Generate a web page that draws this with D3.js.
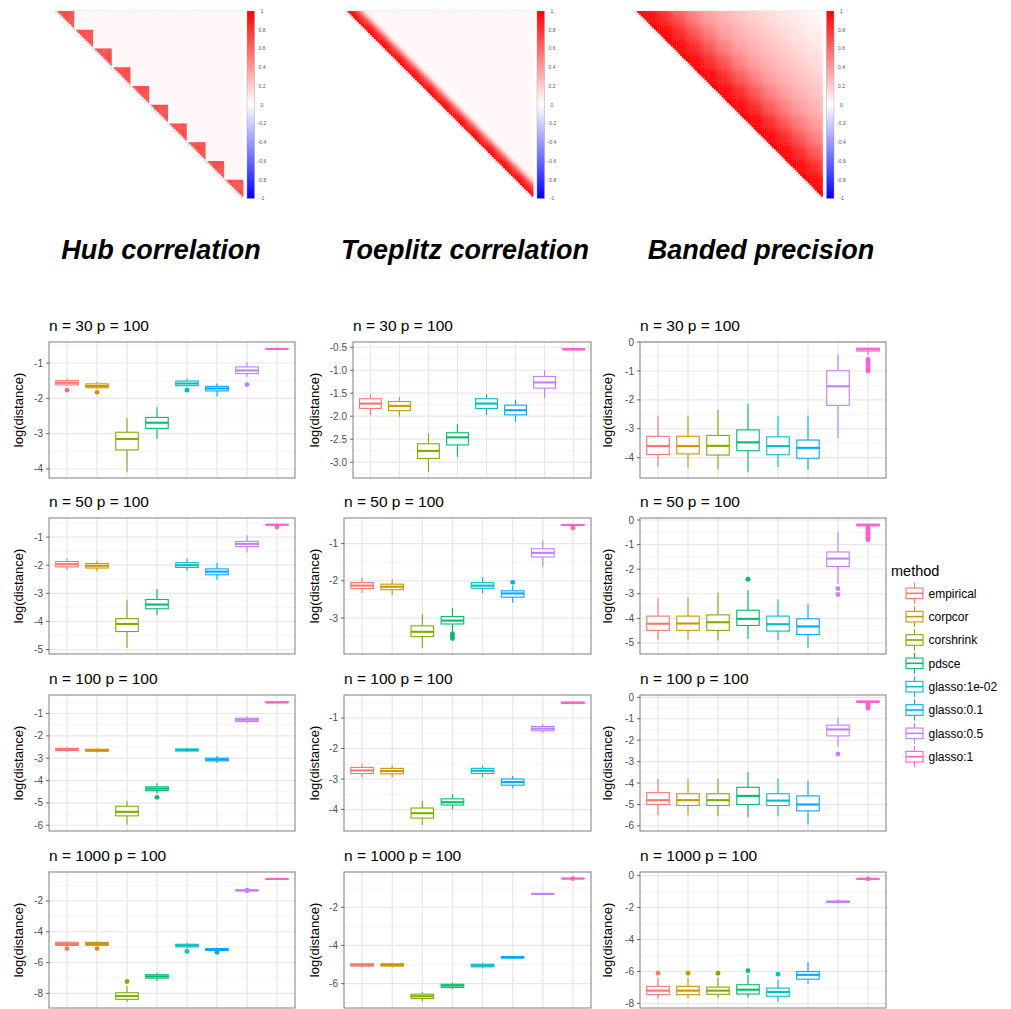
<!DOCTYPE html>
<html>
<head>
<meta charset="utf-8">
<script src="https://cdn.jsdelivr.net/npm/d3@7"></script>
<style>
  body { margin: 0; background: #fff; }
  svg { display: block; font-family: "Liberation Sans", Arial, Helvetica, sans-serif; }
</style>
</head>
<body>
<div id="chart"></div>
<script>
// ---------- data ----------
const methods = ["empirical", "corpcor", "corshrink", "pdsce", "glasso:1e-02", "glasso:0.1", "glasso:0.5", "glasso:1"];
const methodColors = ["#F8766D", "#CD9600", "#7CAE00", "#00BE67", "#00BFC4", "#00A9FF", "#C77CFF", "#FF61CC"];
const structures = ["Hub correlation", "Toeplitz correlation", "Banded precision"];
const sampleSizes = [30, 50, 100, 1000];
const dimension = 100;

// heatmaps (upper triangle of 100 x 100 correlation matrices)
const hubBlockSize = 10;
const hubBlockCor = 0.7;
const backgroundCor = 0.03;
const toeplitzLagCor = [1, 0.97, 0.94, 0.9, 0.86, 0.8, 0.7, 0.55, 0.4, 0.25, 0.12, 0.05];
const bandedLagCor = [
  1.00, 0.99, 0.98, 0.97, 0.96, 0.95, 0.94, 0.92, 0.91, 0.90,
  0.88, 0.86, 0.84, 0.82, 0.80, 0.78, 0.76, 0.73, 0.71, 0.69,
  0.67, 0.65, 0.63, 0.61, 0.59, 0.57, 0.55, 0.53, 0.51, 0.49,
  0.48, 0.46, 0.45, 0.43, 0.42, 0.40, 0.39, 0.38, 0.37, 0.36,
  0.35, 0.34, 0.33, 0.32, 0.31, 0.30, 0.29, 0.28, 0.28, 0.27,
  0.26, 0.25, 0.25, 0.24, 0.23, 0.23, 0.22, 0.21, 0.21, 0.20,
  0.19, 0.19, 0.18, 0.18, 0.17, 0.16, 0.16, 0.15, 0.15, 0.14,
  0.14, 0.13, 0.13, 0.12, 0.12, 0.11, 0.11, 0.10, 0.10, 0.09,
  0.09, 0.09, 0.08, 0.08, 0.07, 0.07, 0.07, 0.06, 0.06, 0.05,
  0.05, 0.05, 0.04, 0.04, 0.04, 0.03, 0.03, 0.03, 0.02, 0.02];
const legendBreaks = [1, 0.8, 0.6, 0.4, 0.2, 0, -0.2, -0.4, -0.6, -0.8, -1];

// boxplots: [lower whisker, q1, median, q3, upper whisker] per method
const hubN30 = [
  [-1.65, -1.62, -1.56, -1.50, -1.44], [-1.73, -1.70, -1.65, -1.59, -1.53],
  [-4.08, -3.46, -3.15, -2.96, -2.56], [-3.15, -2.85, -2.69, -2.54, -2.25],
  [-1.67, -1.64, -1.58, -1.51, -1.44], [-1.95, -1.79, -1.72, -1.66, -1.58],
  [-1.39, -1.30, -1.21, -1.11, -0.97], [-0.62, -0.61, -0.60, -0.59, -0.58]];
const hubN30Out = [[-1.77], [-1.83], [], [], [-1.77], [], [-1.61], []];
const hubN50 = [
  [-2.17, -2.06, -1.965, -1.87, -1.76], [-2.22, -2.10, -2.02, -1.94, -1.84],
  [-4.94, -4.36, -4.09, -3.90, -3.23], [-3.78, -3.55, -3.40, -3.22, -2.85],
  [-2.20, -2.08, -2.00, -1.91, -1.77], [-2.52, -2.34, -2.23, -2.13, -1.91],
  [-1.55, -1.34, -1.24, -1.15, -0.93], [-0.58, -0.57, -0.56, -0.55, -0.54]];
const hubN50Out = [[], [], [], [], [], [], [], [-0.64]];
const hubN100 = [
  [-2.72, -2.66, -2.61, -2.56, -2.50], [-2.74, -2.69, -2.64, -2.60, -2.55],
  [-5.98, -5.58, -5.40, -5.15, -4.90], [-4.58, -4.45, -4.36, -4.28, -4.12],
  [-2.72, -2.68, -2.63, -2.59, -2.54], [-3.22, -3.12, -3.06, -3.00, -2.90],
  [-1.45, -1.36, -1.28, -1.21, -1.12], [-0.55, -0.52, -0.50, -0.48, -0.45]];
const hubN100Out = [[], [], [], [-4.75], [], [], [], []];
const hubN1000 = [
  [-4.95, -4.89, -4.79, -4.68, -4.60], [-4.95, -4.88, -4.79, -4.69, -4.62],
  [-8.55, -8.39, -8.18, -7.96, -7.53], [-7.20, -7.01, -6.90, -6.79, -6.67],
  [-5.05, -4.98, -4.89, -4.81, -4.72], [-5.27, -5.22, -5.15, -5.09, -5.02],
  [-1.37, -1.34, -1.31, -1.28, -1.25], [-0.60, -0.59, -0.57, -0.55, -0.52]];
const hubN1000Out = [[-5.09], [-5.09], [-7.23], [], [-5.28], [-5.33], [-1.30, -1.33], []];

const toeN30 = [
  [-1.98, -1.83, -1.725, -1.62, -1.52], [-2.01, -1.88, -1.775, -1.68, -1.58],
  [-3.21, -2.92, -2.755, -2.60, -2.37], [-2.885, -2.625, -2.46, -2.36, -2.17],
  [-1.98, -1.83, -1.725, -1.62, -1.52], [-2.13, -1.97, -1.87, -1.76, -1.64],
  [-1.61, -1.39, -1.265, -1.135, -1.00], [-0.57, -0.555, -0.545, -0.53, -0.52]];
const toeN30Out = [[], [], [], [], [], [], [], []];
const toeN50 = [
  [-2.33, -2.21, -2.13, -2.05, -1.91], [-2.38, -2.24, -2.16, -2.09, -1.96],
  [-3.80, -3.50, -3.37, -3.21, -2.89], [-3.35, -3.16, -3.07, -2.96, -2.73],
  [-2.34, -2.20, -2.13, -2.05, -1.90], [-2.59, -2.44, -2.34, -2.27, -2.13],
  [-1.62, -1.36, -1.25, -1.14, -0.91], [-0.52, -0.51, -0.50, -0.49, -0.48]];
const toeN50Out = [[], [], [], [-3.42, -3.48, -3.55], [], [-2.04], [], [-0.58]];
const toeN100 = [
  [-2.95, -2.82, -2.72, -2.62, -2.50], [-2.95, -2.83, -2.74, -2.65, -2.55],
  [-4.50, -4.28, -4.12, -3.95, -3.72], [-4.00, -3.85, -3.76, -3.65, -3.50],
  [-2.95, -2.82, -2.73, -2.65, -2.55], [-3.30, -3.20, -3.10, -3.00, -2.90],
  [-1.50, -1.42, -1.35, -1.28, -1.20], [-0.55, -0.52, -0.50, -0.48, -0.45]];
const toeN100Out = [[], [], [], [], [], [], [], []];
const toeN1000 = [
  [-5.15, -5.08, -5.02, -4.96, -4.90], [-5.15, -5.08, -5.02, -4.96, -4.90],
  [-6.95, -6.78, -6.66, -6.55, -6.45], [-6.28, -6.20, -6.10, -6.03, -5.95],
  [-5.20, -5.12, -5.05, -4.98, -4.90], [-4.70, -4.66, -4.62, -4.58, -4.55],
  [-1.32, -1.31, -1.30, -1.29, -1.28], [-0.52, -0.51, -0.50, -0.49, -0.48]];
const toeN1000Out = [[], [], [], [], [], [], [], [-0.50]];

const banN30 = [
  [-4.32, -3.89, -3.60, -3.26, -2.55], [-4.34, -3.87, -3.60, -3.26, -2.55],
  [-4.40, -3.91, -3.59, -3.23, -2.34], [-4.49, -3.76, -3.47, -3.04, -2.13],
  [-4.32, -3.90, -3.60, -3.28, -2.55], [-4.42, -4.02, -3.66, -3.39, -2.55],
  [-3.33, -2.19, -1.53, -0.99, -0.42], [-0.46, -0.31, -0.25, -0.21, -0.21]];
const banN30Out = [[], [], [], [], [], [], [], [-0.60, -0.66, -0.72, -0.78, -0.86, -0.93, -1.00]];
const banN50 = [
  [-4.87, -4.49, -4.22, -3.91, -3.18], [-4.85, -4.49, -4.21, -3.91, -3.15],
  [-4.91, -4.49, -4.16, -3.86, -2.95], [-4.83, -4.29, -4.02, -3.67, -2.86],
  [-4.89, -4.52, -4.24, -3.91, -3.22], [-5.20, -4.66, -4.33, -4.02, -3.42],
  [-2.59, -1.89, -1.57, -1.30, -0.47], [-0.26, -0.24, -0.20, -0.17, -0.17]];
const banN50Out = [[], [], [], [-2.41], [], [], [-2.79, -3.03],
  [-0.30, -0.35, -0.40, -0.45, -0.50, -0.55, -0.60, -0.65, -0.70, -0.75, -0.80]];
const banN100 = [
  [-5.50, -5.00, -4.80, -4.45, -3.80], [-5.50, -5.05, -4.80, -4.50, -3.80],
  [-5.55, -5.05, -4.80, -4.50, -3.80], [-5.60, -5.00, -4.60, -4.20, -3.50],
  [-5.55, -5.05, -4.82, -4.50, -3.80], [-5.95, -5.30, -5.00, -4.60, -3.90],
  [-2.30, -1.80, -1.50, -1.30, -0.95], [-0.25, -0.24, -0.20, -0.18, -0.18]];
const banN100Out = [[], [], [], [], [], [], [-2.65], [-0.30, -0.35, -0.40, -0.45, -0.50]];
const banN1000 = [
  [-7.70, -7.45, -7.20, -6.93, -6.38], [-7.70, -7.45, -7.20, -6.93, -6.38],
  [-7.65, -7.43, -7.20, -6.98, -6.38], [-7.65, -7.41, -7.14, -6.83, -6.21],
  [-7.90, -7.55, -7.28, -7.04, -6.52], [-6.77, -6.48, -6.21, -6.01, -5.39],
  [-1.75, -1.68, -1.63, -1.60, -1.50], [-0.24, -0.22, -0.20, -0.18, -0.16]];
const banN1000Out = [[-6.11], [-6.11], [-6.11], [-5.95], [-6.17], [], [], [-0.20]];

// y breaks per panel
const hubTicks = [[-4, -3, -2, -1], [-5, -4, -3, -2, -1], [-6, -5, -4, -3, -2, -1], [-8, -6, -4, -2]];
const toeTicks = [[-3, -2.5, -2, -1.5, -1, -0.5], [-3, -2, -1], [-4, -3, -2, -1], [-6, -4, -2]];
const banTicks = [[-4, -3, -2, -1, 0], [-5, -4, -3, -2, -1, 0], [-6, -5, -4, -3, -2, -1, 0], [-8, -6, -4, -2, 0]];

const panelStats = [
  [hubN30, hubN50, hubN100, hubN1000],
  [toeN30, toeN50, toeN100, toeN1000],
  [banN30, banN50, banN100, banN1000]];
const panelOut = [
  [hubN30Out, hubN50Out, hubN100Out, hubN1000Out],
  [toeN30Out, toeN50Out, toeN100Out, toeN1000Out],
  [banN30Out, banN50Out, banN100Out, banN1000Out]];
const panelTicks = [hubTicks, toeTicks, banTicks];

// ---------- layout ----------
const width = 1011, height = 1009;
const svg = d3.select("#chart").append("svg")
  .attr("width", width).attr("height", height);
const defs = svg.append("defs");

// ---------- correlation heatmaps ----------
const heatColor = d3.scaleLinear().domain([-1, 0, 1]).range(["#0000ff", "#ffffff", "#ff0000"]);
const heatLeft = [55.5, 345.5, 635];
const heatTop = 11, cellSize = 1.875;

const corValue = (k, i, j) => {
  const lag = Math.abs(i - j);
  if (k === 0) {
    return Math.floor(i / hubBlockSize) === Math.floor(j / hubBlockSize) ? hubBlockCor : backgroundCor;
  }
  if (k === 1) return lag < toeplitzLagCor.length ? Math.max(toeplitzLagCor[lag], backgroundCor) : backgroundCor;
  return bandedLagCor[lag];
};

// legend gradient
const grad = defs.append("linearGradient").attr("id", "corGrad")
  .attr("x1", "0%").attr("y1", "0%").attr("x2", "0%").attr("y2", "100%");
d3.range(0, 21).forEach(s => {
  grad.append("stop").attr("offset", (s / 20 * 100) + "%")
    .attr("stop-color", heatColor(1 - s / 10));
});

structures.forEach((name, k) => {
  const ox = heatLeft[k];
  const idx = d3.scaleBand().domain(d3.range(dimension))
    .range([0, dimension * cellSize]);
  const g = svg.append("g").attr("transform", `translate(${ox},${heatTop})`);

  const cells = [];
  for (let i = 0; i < dimension; i++) {
    for (let j = i + 1; j < dimension; j++) {
      cells.push({ i, j, v: corValue(k, i, j) });
    }
  }
  g.append("g").selectAll("rect").data(cells).join("rect")
    .attr("x", d => idx(d.j))
    .attr("y", d => idx(d.i))
    .attr("width", idx.bandwidth() + 0.35)
    .attr("height", idx.bandwidth() + 0.35)
    .attr("fill", d => heatColor(d.v));

  // diagonal cells drawn blank with a light border
  g.append("g").selectAll("rect").data(d3.range(dimension)).join("rect")
    .attr("x", d => idx(d)).attr("y", d => idx(d))
    .attr("width", idx.bandwidth()).attr("height", idx.bandwidth())
    .attr("fill", "#fff").attr("stroke", "#c8c8c8").attr("stroke-width", 0.35);

  g.append("line")
    .attr("x1", 0).attr("x2", dimension * cellSize)
    .attr("y1", -0.3).attr("y2", -0.3)
    .attr("stroke", "#bbb").attr("stroke-width", 0.6)
    .attr("stroke-dasharray", "0.8,1.07");

  // colour legend
  const barX = dimension * cellSize + 4;
  const barW = 7.5;
  const cy = d3.scaleLinear().domain([-1, 1]).range([dimension * cellSize, 0]);
  g.append("rect")
    .attr("x", barX).attr("y", 0)
    .attr("width", barW).attr("height", dimension * cellSize)
    .attr("fill", "url(#corGrad)")
    .attr("stroke", "#999").attr("stroke-width", 0.4);
  g.append("g").selectAll("text").data(legendBreaks).join("text")
    .attr("x", barX + barW + 7.5)
    .attr("y", d => cy(d))
    .attr("dy", "0.35em")
    .attr("text-anchor", "middle")
    .style("font-size", "5px")
    .style("fill", "#555")
    .text(d => String(d));
});

// structure titles
const titleX = [161, 465, 761];
svg.append("g").selectAll("text").data(structures).join("text")
  .attr("x", (d, k) => titleX[k])
  .attr("y", 259)
  .attr("text-anchor", "middle")
  .style("font-size", "27px")
  .style("font-weight", "bold")
  .style("font-style", "italic")
  .style("fill", "#000")
  .text(d => d);

// ---------- boxplot panels ----------
const rowTop = [342, 518, 695, 872];
const panelH = 136;
const colLeft = [[49, 49, 49, 49], [353, 344, 344, 344], [640, 640, 640, 640]];
const colRight = [295, 591, 886];
const yTitleX = [23, 319, 612];

const drawPanel = (c, r) => {
  const stats = panelStats[c][r];
  const outs = panelOut[c][r];
  const ticks = panelTicks[c][r];
  const left = colLeft[c][r], right = colRight[c];
  const top = rowTop[r], bottom = top + panelH;

  const allVals = stats.flat().concat(outs.flat());
  const [lo, hi] = d3.extent(allVals);
  const pad = (hi - lo) * 0.05;
  const y = d3.scaleLinear().domain([lo - pad, hi + pad]).range([bottom, top]);
  const x = d3.scalePoint().domain(methods).range([left, right]).padding(0.6);
  const boxW = x.step() * 0.75;

  const g = svg.append("g");

  // panel title
  g.append("text")
    .attr("x", left).attr("y", top - 11)
    .style("font-size", "15.5px").style("fill", "#000")
    .text(`n = ${sampleSizes[r]} p = ${dimension}`);

  // grid
  const step = ticks[1] - ticks[0];
  const minors = d3.range(-1, ticks.length).map(i => ticks[0] + step * i + step / 2)
    .filter(v => v > y.domain()[0] && v < y.domain()[1]);
  g.append("g").selectAll("line").data(minors).join("line")
    .attr("x1", left).attr("x2", right)
    .attr("y1", d => y(d)).attr("y2", d => y(d))
    .attr("stroke", "#f0f0f0").attr("stroke-width", 0.7);
  g.append("g").selectAll("line").data(ticks).join("line")
    .attr("x1", left).attr("x2", right)
    .attr("y1", d => y(d)).attr("y2", d => y(d))
    .attr("stroke", "#e8e8e8").attr("stroke-width", 1.2);
  g.append("g").selectAll("line").data(methods).join("line")
    .attr("x1", d => x(d)).attr("x2", d => x(d))
    .attr("y1", top).attr("y2", bottom)
    .attr("stroke", "#e8e8e8").attr("stroke-width", 1.2);

  // boxes
  const boxes = g.append("g").selectAll("g").data(stats).join("g")
    .attr("stroke", (d, i) => methodColors[i]);
  boxes.append("line")
    .attr("x1", (d, i) => x(methods[i])).attr("x2", (d, i) => x(methods[i]))
    .attr("y1", d => y(d[4])).attr("y2", d => y(d[3]))
    .attr("stroke-width", 1.1);
  boxes.append("line")
    .attr("x1", (d, i) => x(methods[i])).attr("x2", (d, i) => x(methods[i]))
    .attr("y1", d => y(d[1])).attr("y2", d => y(d[0]))
    .attr("stroke-width", 1.1);
  boxes.append("rect")
    .attr("x", (d, i) => x(methods[i]) - boxW / 2)
    .attr("width", boxW)
    .attr("y", d => y(d[3]))
    .attr("height", d => Math.max(0.1, y(d[1]) - y(d[3])))
    .attr("fill", "#fff")
    .attr("stroke-width", 1.1);
  boxes.append("line")
    .attr("x1", (d, i) => x(methods[i]) - boxW / 2)
    .attr("x2", (d, i) => x(methods[i]) + boxW / 2)
    .attr("y1", d => y(d[2])).attr("y2", d => y(d[2]))
    .attr("stroke-width", 2.1);

  // outliers
  const pts = [];
  outs.forEach((arr, i) => arr.forEach(v => pts.push({ m: methods[i], i, v })));
  g.append("g").selectAll("circle").data(pts).join("circle")
    .attr("cx", d => x(d.m)).attr("cy", d => y(d.v))
    .attr("r", 2.4)
    .attr("fill", d => methodColors[d.i]);

  // border
  g.append("rect")
    .attr("x", left).attr("y", top)
    .attr("width", right - left).attr("height", panelH)
    .attr("fill", "none").attr("stroke", "#7f7f7f").attr("stroke-width", 1);

  // y axis
  const fmt = ticks.some(t => !Number.isInteger(t)) ? (t => t.toFixed(1)) : (t => String(t));
  g.append("g").selectAll("line").data(ticks).join("line")
    .attr("x1", left - 3).attr("x2", left)
    .attr("y1", d => y(d)).attr("y2", d => y(d))
    .attr("stroke", "#444").attr("stroke-width", 0.8);
  g.append("g").selectAll("text").data(ticks).join("text")
    .attr("x", left - 6).attr("y", d => y(d))
    .attr("dy", "0.35em")
    .attr("text-anchor", "end")
    .style("font-size", "10px").style("fill", "#4d4d4d")
    .text(fmt);

  g.append("text")
    .attr("transform", `translate(${yTitleX[c]},${(top + bottom) / 2}) rotate(-90)`)
    .attr("text-anchor", "middle")
    .style("font-size", "13px").style("fill", "#000")
    .text("log(distance)");
};

for (let c = 0; c < 3; c++) {
  for (let r = 0; r < 4; r++) drawPanel(c, r);
}

// ---------- legend ----------
const legend = svg.append("g").attr("transform", "translate(891,0)");
legend.append("text")
  .attr("x", 0).attr("y", 576)
  .style("font-size", "14.5px").style("fill", "#000")
  .text("method");
const keyY = d3.scalePoint().domain(methods).range([593.3, 756.7]);
const keys = legend.selectAll("g.key").data(methods).join("g")
  .attr("class", "key")
  .attr("transform", d => `translate(0,${keyY(d)})`)
  .attr("stroke", (d, i) => methodColors[i]);
keys.append("line").attr("x1", 23.5).attr("x2", 23.5).attr("y1", -10.5).attr("y2", 10.5)
  .attr("stroke-width", 1.1);
keys.append("rect").attr("x", 15).attr("y", -5.3).attr("width", 17).attr("height", 10.6)
  .attr("fill", "#fff").attr("stroke-width", 1.1);
keys.append("line").attr("x1", 15).attr("x2", 32).attr("y1", 0).attr("y2", 0)
  .attr("stroke-width", 1.6);
keys.append("text")
  .attr("x", 37.5).attr("y", 0).attr("dy", "0.35em")
  .attr("stroke", "none")
  .style("font-size", "12px").style("fill", "#000")
  .text(d => d);
</script>
</body>
</html>
